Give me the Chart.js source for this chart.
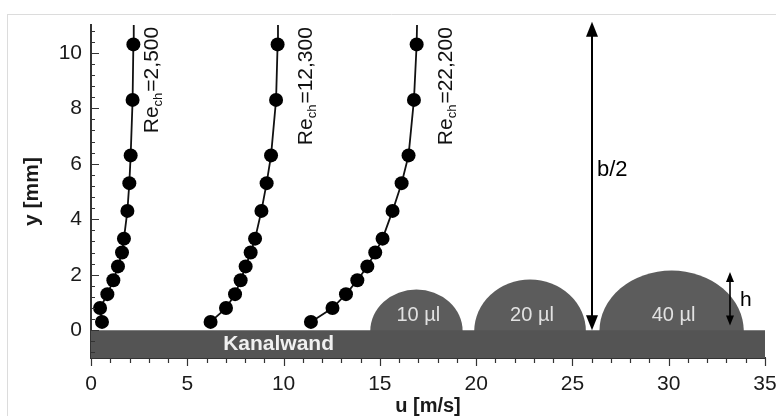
<!DOCTYPE html>
<html>
<head>
<meta charset="utf-8">
<script src="https://cdn.jsdelivr.net/npm/chart.js@4.4.0/dist/chart.umd.min.js"></script>
<style>
  html, body { margin: 0; padding: 0; background: #fff; }
  #wrap { width: 776px; height: 416px; position: relative; }
</style>
</head>
<body>
<div id="wrap"><canvas id="chartCanvas"></canvas></div>
<script>
// Wandabstand der Messpunkte [mm] (letzter Wert = Linie bis zum Rand, ohne Punkt)
const yLevels  = [0.3, 0.8, 1.3, 1.8, 2.3, 2.8, 3.3, 4.3, 5.3, 6.3, 8.3, 10.3, 11];
// Geschwindigkeit u [m/s] je Reynoldszahl
const uRe2500  = [0.57, 0.47, 0.85, 1.16, 1.40, 1.61, 1.71, 1.89, 1.99, 2.06, 2.16, 2.20, 2.22];
const uRe12300 = [6.21, 7.01, 7.48, 7.77, 8.03, 8.29, 8.52, 8.85, 9.12, 9.35, 9.61, 9.69, 9.71];
const uRe22200 = [11.42, 12.54, 13.24, 13.83, 14.35, 14.76, 15.14, 15.66, 16.13, 16.49, 16.77, 16.91, 16.93];
const reNames  = ['2,500', '12,300', '22,200'];

const xTicks = [0, 5, 10, 15, 20, 25, 30, 35];
const yTicks = [0, 2, 4, 6, 8, 10];

// Tropfen auf der Kanalwand
const dropNames  = ['10 µl', '20 µl', '40 µl'];
const dropLeft   = [14.5, 19.9, 26.4];
const dropRight  = [19.3, 25.7, 33.9];
const dropHeight = [1.47, 1.83, 2.15];

const FONT = "'Liberation Sans', Arial, sans-serif";

function toPoints(us) {
  return us.map((u, i) => ({ x: u, y: yLevels[i] }));
}

function profile(us) {
  return {
    data: toPoints(us),
    borderColor: '#111',
    borderWidth: 1.8,
    backgroundColor: '#000',
    pointBackgroundColor: '#000',
    pointBorderWidth: 0,
    pointRadius: ctx => (ctx.parsed && ctx.parsed.y >= 11 ? 0 : 7),
    showLine: true,
    fill: false,
    tension: 0,
    clip: false,
    order: 0
  };
}

function arrowHead(ctx, x, y, dir, len, half) {
  // dir = -1 Spitze nach oben, +1 Spitze nach unten
  ctx.beginPath();
  ctx.moveTo(x, y);
  ctx.lineTo(x - half, y - dir * len);
  ctx.lineTo(x + half, y - dir * len);
  ctx.closePath();
  ctx.fill();
}

// keine Zusatzabstände der Achsen, Plotfläche fest
function noPad(s) {
  s.paddingLeft = 0;
  s.paddingRight = 0;
  s.paddingTop = 0;
  s.paddingBottom = 0;
}

// Rahmen, Tropfen
const backdrop = {
  id: 'backdrop',
  beforeDraw(chart) {
    const ctx = chart.ctx;
    ctx.save();
    ctx.strokeStyle = '#dcdcdc';
    ctx.lineWidth = 1;
    ctx.beginPath();
    ctx.moveTo(7, 14.5); ctx.lineTo(776, 14.5);
    ctx.moveTo(7.5, 14); ctx.lineTo(7.5, 416);
    ctx.stroke();
    ctx.restore();
  },
  beforeDatasetsDraw(chart) {
    const { ctx, scales: { x, y } } = chart;
    ctx.save();
    ctx.fillStyle = '#5c5c5c';
    const base = y.getPixelForValue(0);
    dropNames.forEach((n, i) => {
      const l = x.getPixelForValue(dropLeft[i]);
      const r = x.getPixelForValue(dropRight[i]);
      const top = y.getPixelForValue(dropHeight[i]);
      ctx.beginPath();
      ctx.ellipse((l + r) / 2, base + 1, (r - l) / 2, base + 1 - top, 0, Math.PI, 2 * Math.PI);
      ctx.closePath();
      ctx.fill();
    });
    ctx.restore();
  }
};

// Beschriftungen, Pfeile, Tickmarken
const annotations = {
  id: 'annotations',
  afterDatasetsDraw(chart) {
    const { ctx, scales: { x, y } } = chart;
    ctx.save();

    // Tropfen-Volumen
    ctx.fillStyle = '#e2e2e2';
    ctx.font = '20px ' + FONT;
    ctx.textAlign = 'center';
    ctx.textBaseline = 'middle';
    dropNames.forEach((n, i) => {
      ctx.fillText(n, x.getPixelForValue((dropLeft[i] + dropRight[i]) / 2 + 0.1), y.getPixelForValue(0.53));
    });

    // Kanalwand
    ctx.fillStyle = '#f0f0f0';
    ctx.font = 'bold 21px ' + FONT;
    ctx.fillText('Kanalwand', x.getPixelForValue(9.74), y.getPixelForValue(-0.5));

    // Re-Beschriftung, gedreht
    const rePos = [[3.2, 7.1], [11.2, 6.67], [18.47, 6.67]];
    ctx.fillStyle = '#111';
    rePos.forEach((p, i) => {
      ctx.save();
      ctx.translate(x.getPixelForValue(p[0]), y.getPixelForValue(p[1]));
      ctx.rotate(-Math.PI / 2);
      ctx.textAlign = 'left';
      ctx.textBaseline = 'middle';
      ctx.font = '21px ' + FONT;
      let cx = 0;
      ctx.fillText('Re', cx, 0);
      cx += ctx.measureText('Re').width;
      ctx.font = '13px ' + FONT;
      ctx.fillText('ch', cx, 6);
      cx += ctx.measureText('ch').width + 1;
      ctx.font = '21px ' + FONT;
      ctx.fillText('=' + reNames[i], cx, 0);
      ctx.restore();
    });

    // Pfeil b/2
    ctx.strokeStyle = '#000';
    ctx.fillStyle = '#000';
    ctx.lineWidth = 2;
    const bx = Math.round(x.getPixelForValue(26.03));
    const b0 = y.getPixelForValue(0), b1 = y.getPixelForValue(11.12);
    ctx.beginPath();
    ctx.moveTo(bx, b0 - 10); ctx.lineTo(bx, b1 + 10);
    ctx.stroke();
    arrowHead(ctx, bx, b1, -1, 15, 6);
    arrowHead(ctx, bx, b0, 1, 15, 6);
    ctx.font = '22px ' + FONT;
    ctx.textAlign = 'left';
    ctx.fillText('b/2', bx + 5, y.getPixelForValue(5.77));

    // Pfeil h
    const hx = Math.round(x.getPixelForValue(33.18));
    const h0 = y.getPixelForValue(0.17), h1 = y.getPixelForValue(2.1);
    ctx.lineWidth = 1.6;
    ctx.beginPath();
    ctx.moveTo(hx, h0 - 6); ctx.lineTo(hx, h1 + 6);
    ctx.stroke();
    arrowHead(ctx, hx, h1, -1, 10, 4);
    arrowHead(ctx, hx, h0, 1, 10, 4);
    ctx.font = '21px ' + FONT;
    ctx.fillText('h', hx + 10, y.getPixelForValue(1.1));

    ctx.restore();
  },
  afterDraw(chart) {
    const { ctx, chartArea: a, scales: { x, y } } = chart;
    ctx.save();
    ctx.strokeStyle = '#333';
    ctx.lineWidth = 1.2;
    ctx.beginPath();
    for (let u = 0; u <= 35; u++) {
      const px = Math.round(x.getPixelForValue(u)) + 0.5;
      const len = u % 5 === 0 ? 8 : 5;
      ctx.moveTo(px, a.bottom);
      ctx.lineTo(px, a.bottom + len);
    }
    for (let k = -2; k <= 27; k++) {
      const py = Math.round(y.getPixelForValue(k * 0.4)) + 0.5;
      const len = k % 5 === 0 ? 8 : 4;
      ctx.moveTo(a.left, py);
      ctx.lineTo(a.left + len, py);
    }
    ctx.stroke();
    ctx.restore();
  }
};

const ctx = document.getElementById('chartCanvas').getContext('2d');
const chart = new Chart(ctx, {
  type: 'scatter',
  data: {
    datasets: [
      {
        data: [{ x: 0, y: 0 }, { x: 35, y: 0 }],
        showLine: true,
        borderWidth: 0,
        borderColor: 'rgba(0,0,0,0)',
        backgroundColor: '#545454',
        pointRadius: 0,
        fill: 'start',
        order: 10
      },
      profile(uRe2500),
      profile(uRe12300),
      profile(uRe22200)
    ]
  },
  options: {
    responsive: true,
    maintainAspectRatio: false,
    animation: false,
    events: [],
    layout: { padding: { top: 25, right: 11, left: 0, bottom: 0 } },
    plugins: {
      legend: { display: false },
      tooltip: { enabled: false }
    },
    scales: {
      x: {
        type: 'linear',
        min: 0,
        max: 35,
        afterBuildTicks: s => { s.ticks = xTicks.map(v => ({ value: v })); },
        afterFit: s => { s.height = 58; noPad(s); },
        grid: { display: false },
        border: { display: true, color: '#333', width: 2 },
        ticks: { color: '#1a1a1a', padding: 6, font: { family: FONT, size: 21 } },
        title: {
          display: true,
          text: 'u [m/s]',
          color: '#1a1a1a',
          padding: 0,
          font: { family: FONT, size: 20, weight: 'bold', lineHeight: 1 }
        }
      },
      y: {
        type: 'linear',
        min: -1,
        max: 11,
        afterBuildTicks: s => { s.ticks = yTicks.map(v => ({ value: v })); },
        afterFit: s => { s.width = 91; noPad(s); },
        grid: { display: false },
        border: { display: true, color: '#333', width: 2 },
        ticks: { color: '#1a1a1a', padding: 1, font: { family: FONT, size: 21 } },
        title: {
          display: true,
          text: 'y [mm]',
          color: '#1a1a1a',
          padding: { top: 22, bottom: 0 },
          font: { family: FONT, size: 21, weight: 'bold', lineHeight: 1 }
        }
      }
    }
  },
  plugins: [backdrop, annotations]
});
</script>
</body>
</html>
